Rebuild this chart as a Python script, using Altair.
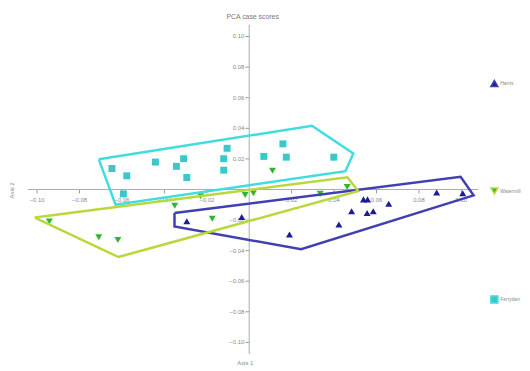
import altair as alt
import pandas as pd

groups = ["Harris", "Watermill", "Ferryden"]
point_colors = ["#1c1c96", "#2fb82f", "#3cc8c8"]
hull_colors = ["#4040b0", "#b8d83c", "#40dce0"]
point_shapes = ["triangle-up", "triangle-down", "square"]

# case scores (Axis 1, Axis 2)
harris_x = [-0.0292, -0.0033, 0.0192, 0.0425, 0.0485, 0.0541, 0.0560, 0.0558, 0.0587, 0.0660, 0.0886, 0.1009]
harris_y = [-0.0211, -0.0183, -0.0297, -0.0232, -0.0145, -0.0068, -0.0068, -0.0157, -0.0146, -0.0097, -0.0023, -0.0028]

watermill_x = [-0.0940, -0.0707, -0.0617, -0.0349, -0.0227, -0.0172, -0.0017, 0.0022, 0.0112, 0.0337, 0.0464]
watermill_y = [-0.0213, -0.0316, -0.0334, -0.0110, -0.0048, -0.0194, -0.0039, -0.0028, 0.0119, -0.0032, 0.0013]

ferryden_x = [-0.0645, -0.0575, -0.0440, -0.0341, -0.0307, -0.0292, -0.0102, -0.0118, -0.0118, 0.0071, 0.0161, 0.0177, 0.0401, -0.0591]
ferryden_y = [0.0134, 0.0086, 0.0176, 0.0148, 0.0198, 0.0075, 0.0266, 0.0198, 0.0123, 0.0213, 0.0295, 0.0208, 0.0208, -0.0032]

# convex hull outlines (closed)
harris_hull_x = [-0.0350, 0.0999, 0.1060, 0.0247, -0.0350, -0.0350]
harris_hull_y = [-0.0157, 0.0079, -0.0042, -0.0394, -0.0245, -0.0157]

watermill_hull_x = [-0.1009, 0.0465, 0.0516, -0.0614, -0.1009]
watermill_hull_y = [-0.0187, 0.0077, -0.0013, -0.0445, -0.0187]

ferryden_hull_x = [-0.0707, 0.0298, 0.0493, 0.0456, -0.0628, -0.0707]
ferryden_hull_y = [0.0194, 0.0413, 0.0232, 0.0116, -0.0103, 0.0194]

tick_values = [-0.10, -0.08, -0.06, -0.04, -0.02, 0.02, 0.04, 0.06, 0.08, 0.10]

pts = []
for g, xs, ys in [("Harris", harris_x, harris_y), ("Watermill", watermill_x, watermill_y), ("Ferryden", ferryden_x, ferryden_y)]:
    for a, b in zip(xs, ys):
        pts.append({"x": a, "y": b, "group": g})
pts = pd.DataFrame(pts)

hull = []
for g, xs, ys in [("Harris", harris_hull_x, harris_hull_y), ("Watermill", watermill_hull_x, watermill_hull_y), ("Ferryden", ferryden_hull_x, ferryden_hull_y)]:
    for i, (a, b) in enumerate(zip(xs, ys)):
        hull.append({"x": a, "y": b, "hgroup": g, "o": i})
hull = pd.DataFrame(hull)

W, H = 456, 334

x_enc = alt.X("x:Q", scale=alt.Scale(domain=[-0.1042, 0.1079], nice=False, zero=False),
              axis=alt.Axis(title="Axis 1", values=tick_values, format=".2f", offset=-167,
                            grid=False, tickSize=4, labelPadding=4, labelFontSize=6,
                            labelColor="#888", domainColor="#aaa", tickColor="#999",
                            labelFlush=False, labelOverlap=False,
                            titleFontSize=6, titleFontWeight="normal", titleColor="#888",
                            titleX=220, titleY=176, titleAlign="center", titleBaseline="middle"))
y_enc = alt.Y("y:Q", scale=alt.Scale(domain=[-0.1077, 0.1077], nice=False, zero=False),
              axis=alt.Axis(title="Axis 2", values=tick_values, format=".2f", offset=-224,
                            grid=False, tickSize=4, labelPadding=1, labelFontSize=6,
                            labelColor="#888", domainColor="#aaa", tickColor="#999",
                            labelFlush=False, labelOverlap=False,
                            titleFontSize=6, titleFontWeight="normal", titleColor="#888",
                            titleX=-240, titleY=168, titleAngle=-90, titleAlign="center",
                            titleBaseline="middle"))

hull_layer = alt.Chart(hull).mark_line(strokeWidth=2.5).encode(
    x=x_enc, y=y_enc,
    stroke=alt.Stroke("hgroup:N", scale=alt.Scale(domain=groups, range=hull_colors), legend=None),
    detail="hgroup:N",
    order="o:Q",
)

legend = alt.Legend(orient="none", legendX=468.5, legendY=55.5, title=None, rowPadding=96,
                    labelFontSize=5, labelColor="#888", symbolSize=50, labelOffset=1.5)

point_layer = alt.Chart(pts).mark_point(filled=True, size=50, opacity=1).encode(
    x=x_enc, y=y_enc,
    color=alt.Color("group:N", scale=alt.Scale(domain=groups, range=point_colors), legend=legend),
    shape=alt.Shape("group:N", scale=alt.Scale(domain=groups, range=point_shapes), legend=legend),
)

chart = alt.layer(point_layer, hull_layer).properties(
    width=W, height=H,
    title=alt.TitleParams("PCA case scores", fontSize=7, color="#777", fontWeight="normal", offset=4),
    autosize=alt.AutoSizeParams(type="none"),
    padding={"left": 20, "top": 14, "right": 45, "bottom": 12},
).configure_view(stroke=None)

chart.save("out.html", embed_options={"renderer": "svg", "actions": False})
